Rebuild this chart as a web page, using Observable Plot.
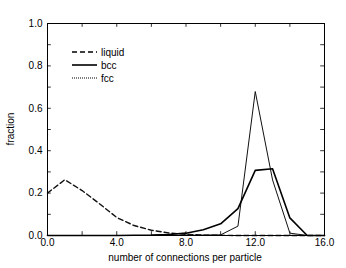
<!DOCTYPE html>
<html>
<head>
<meta charset="utf-8">
<script src="https://cdn.jsdelivr.net/npm/d3@7"></script>
<script src="https://cdn.jsdelivr.net/npm/@observablehq/plot@0.6"></script>
<style>
  body { margin: 0; background: #fff; }
  #wrap { position: relative; width: 346px; height: 268px; font-family: "Liberation Sans", Arial, sans-serif; }
  #legend { position: absolute; left: 0; top: 0; }
</style>
</head>
<body>
<div id="wrap"></div>
<script>
const connections = [0, 1, 2, 3, 4, 5, 6, 7, 8, 9, 10, 11, 12, 13, 14, 15, 16];
const liquid = [0.200, 0.263, 0.212, 0.150, 0.085, 0.047, 0.025, 0.012, 0.005, 0.002, 0.001, 0, 0, 0, 0, 0, 0];
const bcc    = [0, 0, 0, 0, 0, 0.001, 0.002, 0.005, 0.011, 0.027, 0.055, 0.127, 0.307, 0.315, 0.083, 0, 0];
const fcc    = [0, 0, 0, 0, 0, 0, 0, 0, 0.001, 0.002, 0.003, 0.044, 0.679, 0.262, 0.011, 0, 0];
const seriesNames = ["liquid", "bcc", "fcc"];
const xTickLabels = [0, 4, 8, 12, 16];
const xTicksAll = [0, 2, 4, 6, 8, 10, 12, 14, 16];
const yTickLabels = [0, 0.2, 0.4, 0.6, 0.8, 1.0];
const yTicksAll = [0, 0.1, 0.2, 0.3, 0.4, 0.5, 0.6, 0.7, 0.8, 0.9, 1.0];

const rows = connections.map((c, i) => ({c, liquid: liquid[i], bcc: bcc[i], fcc: fcc[i]}));

const xMin = 0, xMax = 16, yMin = 0, yMax = 1;
const tx = 0.22, ty = 0.018; // inward tick lengths in data units

const chart = Plot.plot({
  width: 346,
  height: 268,
  marginLeft: 47,
  marginRight: 22,
  marginTop: 23,
  marginBottom: 33,
  style: {fontFamily: "Liberation Sans, Arial, sans-serif", fontSize: "10px", color: "#000", background: "#fff"},
  x: {domain: [xMin, xMax]},
  y: {domain: [yMin, yMax]},
  marks: [
    Plot.axisX(xTickLabels, {tickSize: 0, tickPadding: 3, tickFormat: d3.format(".1f"), fontSize: 10, label: null}),
    Plot.axisY(yTickLabels, {tickSize: 0, tickPadding: 5, tickFormat: d3.format(".1f"), fontSize: 10, label: null}),
    Plot.ruleX(xTicksAll, {x: d => d, y1: yMin, y2: yMin + ty, stroke: "#000", strokeWidth: 0.8}),
    Plot.ruleX(xTicksAll, {x: d => d, y1: yMax, y2: yMax - ty, stroke: "#000", strokeWidth: 0.8}),
    Plot.ruleY(yTicksAll, {y: d => d, x1: xMin, x2: xMin + tx, stroke: "#000", strokeWidth: 0.8}),
    Plot.ruleY(yTicksAll, {y: d => d, x1: xMax, x2: xMax - tx, stroke: "#000", strokeWidth: 0.8}),
    Plot.line(rows, {x: "c", y: "liquid", stroke: "#111", strokeWidth: 1.4, strokeDasharray: "5,3"}),
    Plot.line(rows, {x: "c", y: "fcc", stroke: "#111", strokeWidth: 1}),
    Plot.line(rows, {x: "c", y: "bcc", stroke: "#000", strokeWidth: 1.6}),
    Plot.frame({stroke: "#000", strokeWidth: 1})
  ]
});

const svg = d3.select(chart);
svg.append("text")
  .attr("x", 185).attr("y", 261)
  .attr("text-anchor", "middle")
  .attr("font-size", 10)
  .attr("fill", "#000")
  .text("number of connections per particle");
svg.append("text")
  .attr("transform", "translate(14,129) rotate(-90)")
  .attr("text-anchor", "middle")
  .attr("font-size", 10)
  .attr("fill", "#000")
  .text("fraction");

document.getElementById("wrap").appendChild(chart);

// legend overlay
const styles = {liquid: {w: 1.4, dash: "5,3"}, bcc: {w: 1.6, dash: null}, fcc: {w: 1, dash: "1,1"}};
const leg = d3.select("#wrap").append("svg")
  .attr("id", "legend").attr("width", 346).attr("height", 268)
  .style("pointer-events", "none");
seriesNames.forEach((name, i) => {
  const y = 52 + i * 13;
  leg.append("line").attr("x1", 72).attr("x2", 97).attr("y1", y).attr("y2", y)
    .attr("stroke", "#000").attr("stroke-width", styles[name].w)
    .attr("stroke-dasharray", styles[name].dash);
  leg.append("text").attr("x", 101).attr("y", y + 3.5)
    .attr("font-size", 10).attr("fill", "#000")
    .attr("font-family", "Liberation Sans, Arial, sans-serif")
    .text(name);
});
</script>
</body>
</html>
